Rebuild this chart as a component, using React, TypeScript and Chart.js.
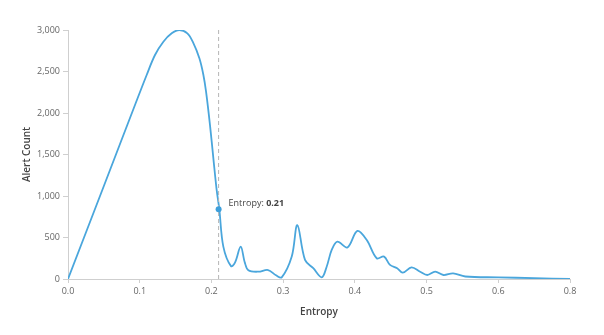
import React, { useEffect, useRef } from "react";
import { Chart, registerables } from "chart.js";

Chart.register(...registerables);

const entropyValues = [
  0, 0.05, 0.0934, 0.1097, 0.1213, 0.133, 0.1446, 0.1553, 0.1664, 0.1739, 0.1832,
  0.1888, 0.1925, 0.198, 0.2027, 0.2072, 0.211, 0.2166, 0.2273, 0.233, 0.2408,
  0.2465, 0.2515, 0.2654, 0.279, 0.29, 0.298, 0.312, 0.3198, 0.3305, 0.342,
  0.3538, 0.3607, 0.3677, 0.3756, 0.3896, 0.4035, 0.4166, 0.4305, 0.4407, 0.449,
  0.459, 0.4668, 0.479, 0.491, 0.501, 0.512, 0.5235, 0.537, 0.554, 0.6, 0.65, 0.7,
];
const alertCounts = [
  0, 1120, 2096, 2458, 2699, 2859, 2960, 3000, 2960, 2859, 2659,
  2458, 2257, 1855, 1454, 1080, 840, 390, 155, 200, 390,
  200, 105, 88, 108, 45, 20, 270, 650, 230, 130,
  20, 148, 350, 450, 380, 580, 470, 250, 270, 170,
  130, 76, 141, 88, 48, 88, 48, 68, 30, 20, 10, 0,
];
const xTickLabels = ["0.0", "0.1", "0.2", "0.3", "0.4", "0.5", "0.6", "0.8"];
const yTickValues = [0, 500, 1000, 1500, 2000, 2500, 3000];
const markerEntropy = 0.21;
const markerCount = 840;

const FONT = "'Open Sans', 'DejaVu Sans', sans-serif";

const markerPlugin = {
  id: "markerPlugin",
  afterDatasetsDraw(chart: any) {
    const { ctx, chartArea, scales } = chart;
    const x = scales.x.getPixelForValue(markerEntropy);
    const y = scales.y.getPixelForValue(markerCount);
    ctx.save();
    ctx.strokeStyle = "#b5b5b5";
    ctx.lineWidth = 1;
    ctx.setLineDash([4, 3]);
    ctx.beginPath();
    ctx.moveTo(x, chartArea.bottom);
    ctx.lineTo(x, chartArea.top);
    ctx.stroke();
    ctx.setLineDash([]);
    ctx.fillStyle = "#3d9fdb";
    ctx.beginPath();
    ctx.arc(x, y, 3, 0, Math.PI * 2);
    ctx.fill();
    ctx.textBaseline = "middle";
    ctx.fillStyle = "#444";
    ctx.font = `9px ${FONT}`;
    const label = "Entropy: ";
    const tx = x + 10;
    const ty = y - 6;
    ctx.fillText(label, tx, ty);
    const w = ctx.measureText(label).width;
    ctx.font = `bold 9px ${FONT}`;
    ctx.fillText(markerEntropy.toFixed(2), tx + w, ty);
    ctx.restore();
  },
};

export default function App() {
  const ref = useRef<HTMLCanvasElement>(null);
  useEffect(() => {
    if (!ref.current) return;
    const data = entropyValues.map((e, i) => ({ x: e, y: alertCounts[i] }));
    const chart = new Chart(ref.current, {
      type: "line",
      data: {
        datasets: [
          {
            data,
            borderColor: "#4aa6dc",
            borderWidth: 1.8,
            pointRadius: 0,
            fill: false,
            tension: 0.35,
          },
        ],
      },
      options: {
        animation: false,
        responsive: false,
        maintainAspectRatio: false,
        layout: { padding: { left: 0, right: 34, top: 30, bottom: 0 } },
        plugins: { legend: { display: false }, tooltip: { enabled: false } },
        scales: {
          x: {
            type: "linear",
            min: 0,
            max: 0.7,
            afterBuildTicks: (scale: any) => {
              scale.ticks = xTickLabels.map((_, i) => ({ value: i / 10 }));
            },
            afterFit: (scale: any) => {
              scale.height = 56;
            },
            ticks: {
              color: "#666",
              font: { family: FONT, size: 9 },
              padding: 3,
              maxRotation: 0,
              autoSkip: false,
              callback: (_v: any, i: number) => xTickLabels[i],
            },
            grid: { drawOnChartArea: false, drawTicks: true, tickLength: 4, color: "#cfcfcf" },
            border: { color: "#cfcfcf" },
            title: {
              display: true,
              text: "Entropy",
              color: "#444",
              font: { family: FONT, size: 10, weight: 600 },
              padding: { top: 4, bottom: 17 },
            },
          },
          y: {
            min: 0,
            max: 3000,
            afterBuildTicks: (scale: any) => {
              scale.ticks = yTickValues.map((v) => ({ value: v }));
            },
            afterFit: (scale: any) => {
              scale.width = 68;
            },
            ticks: {
              color: "#666",
              font: { family: FONT, size: 9 },
              padding: 3,
              callback: (v: any) => Number(v).toLocaleString("en-US"),
            },
            grid: { drawOnChartArea: false, drawTicks: true, tickLength: 5, color: "#cfcfcf" },
            border: { color: "#cfcfcf" },
            title: {
              display: true,
              text: "Alert Count",
              color: "#444",
              font: { family: FONT, size: 10, weight: 600 },
              padding: { top: 21, bottom: 4 },
            },
          },
        },
      },
      plugins: [markerPlugin],
    });
    return () => chart.destroy();
  }, []);
  return (
    <div style={{ position: "fixed", left: 0, top: 0, width: 604, height: 335, background: "#fff" }}>
      <canvas ref={ref} width={604} height={335} style={{ display: "block" }} />
    </div>
  );
}
